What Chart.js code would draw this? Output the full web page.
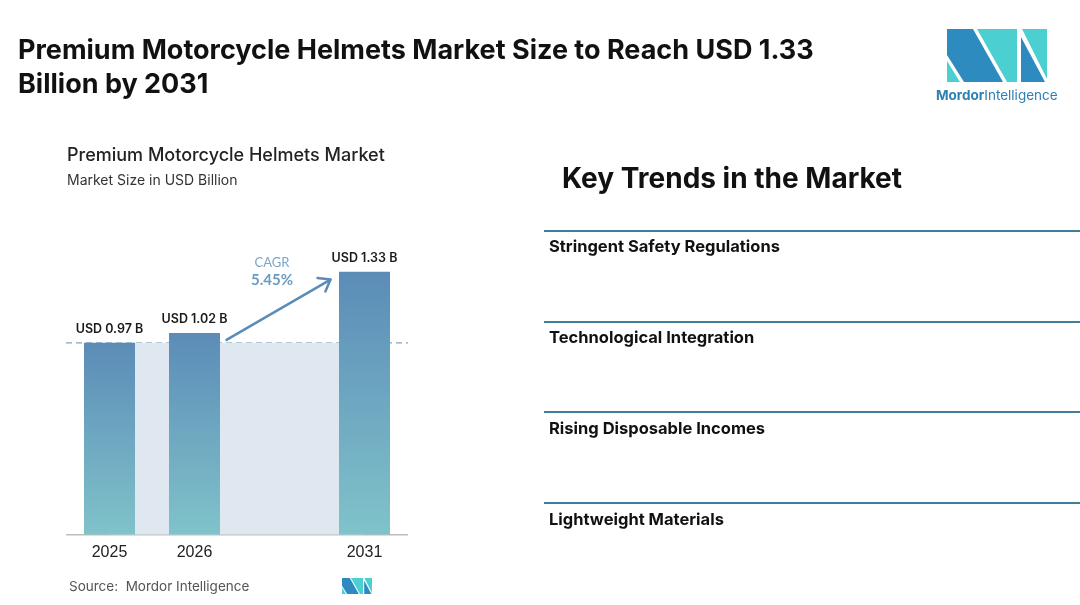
<!DOCTYPE html>
<html>
<head>
<meta charset="utf-8">
<script src="https://cdn.jsdelivr.net/npm/chart.js@4.4.1/dist/chart.umd.min.js"></script>
<style>
  html, body { margin: 0; padding: 0; background: #fff; }
  body { width: 1080px; height: 605px; position: relative; overflow: hidden; font-family: Inter, "Open Sans", sans-serif; }
  #chart { position: absolute; left: 0; top: 0; }
  .t { position: absolute; white-space: nowrap; color: #111; }
  .title { left: 18px; top: 33px; font-size: 27px; font-weight: 700; line-height: 34px; }
  .sub1 { left: 67px; top: 144px; font-size: 18px; font-weight: 500; color: #222; }
  .sub2 { left: 67px; top: 171px; font-size: 14px; color: #333; }
  .kt { left: 562px; top: 161px; font-size: 28px; font-weight: 700; }
  .rule { position: absolute; left: 544px; width: 536px; height: 2px; background: #3f7d9c; }
  .item { left: 549px; font-size: 16.5px; font-weight: 700; color: #111; }
  .src { left: 69px; top: 578px; font-size: 13.5px; color: #555; }
  .brand { left: 936px; top: 87px; font-size: 13.5px; color: #2e7fb3; }
  .brand b { font-weight: 700; }
</style>
</head>
<body>
<canvas id="chart" width="1080" height="605"></canvas>

<div class="t title">Premium Motorcycle Helmets Market Size to Reach USD 1.33<br>Billion by 2031</div>
<div class="t sub1">Premium Motorcycle Helmets Market</div>
<div class="t sub2">Market Size in USD Billion</div>

<div class="t kt">Key Trends in the Market</div>
<div class="rule" style="top:230px"></div>
<div class="t item" style="top:236px">Stringent Safety Regulations</div>
<div class="rule" style="top:321px"></div>
<div class="t item" style="top:327px">Technological Integration</div>
<div class="rule" style="top:411px"></div>
<div class="t item" style="top:418px">Rising Disposable Incomes</div>
<div class="rule" style="top:502px"></div>
<div class="t item" style="top:509px">Lightweight Materials</div>

<div class="t src">Source:&nbsp; Mordor Intelligence</div>

<svg style="position:absolute;left:0;top:0" width="1080" height="605">
  <g>
    <polygon points="947,29 973,29 1003,82 964,82 947,55" fill="#2e8bc0"/>
    <polygon points="947,61 947,82 960,82" fill="#4ccfd0"/>
    <polygon points="977,29 1017,29 1017,82 1007,82" fill="#4ccfd0"/>
    <polygon points="1022,29 1047,29 1047,79" fill="#4ccfd0"/>
    <polygon points="1021,37 1021,82 1045,82" fill="#2e8bc0"/>
  </g>
  <g transform="translate(342,578) scale(0.3)">
    <polygon points="0,0 26,0 56,53 17,53 0,26" fill="#2e8bc0"/>
    <polygon points="0,32 0,53 13,53" fill="#4ccfd0"/>
    <polygon points="30,0 70,0 70,53 60,53" fill="#4ccfd0"/>
    <polygon points="75,0 100,0 100,50" fill="#4ccfd0"/>
    <polygon points="74,8 74,53 98,53" fill="#2e8bc0"/>
  </g>
</svg>
<div class="t brand"><b>Mordor</b>Intelligence</div>

<script>
// data
var years = ['2025', '2026', '', '2031'];
var marketSize = [0.97, 1.02, null, 1.33];
var valueLabels = ['USD 0.97 B', 'USD 1.02 B', '', 'USD 1.33 B'];
var baseLevel = [0.97, 0.97, 0.97, 0.97];
var cagrText = ['CAGR', '5.45%'];

var barGradient = function (ctx) {
  var chart = ctx.chart;
  var area = chart.chartArea;
  if (!area || ctx.raw == null) return '#6a9fc0';
  var y = chart.scales.y;
  var top = y.getPixelForValue(ctx.raw);
  var g = chart.ctx.createLinearGradient(0, top, 0, y.getPixelForValue(0));
  g.addColorStop(0, '#5b8cb7');
  g.addColorStop(1, '#80c3ca');
  return g;
};

var extras = {
  id: 'extras',
  beforeDatasetsDraw: function (chart) {
    var c = chart.ctx, a = chart.chartArea, y = chart.scales.y;
    var yy = y.getPixelForValue(baseLevel[0]);
    c.save();
    c.strokeStyle = '#7ea8b8';
    c.lineWidth = 1.2;
    c.setLineDash([6, 4]);
    c.beginPath();
    c.moveTo(a.left - 1, yy);
    c.lineTo(a.right + 1, yy);
    c.stroke();
    c.restore();
  },
  afterDatasetsDraw: function (chart) {
    var c = chart.ctx, x = chart.scales.x, y = chart.scales.y;
    var meta = chart.getDatasetMeta(1);
    c.save();
    c.fillStyle = '#1a1a1a';
    c.font = '600 12.5px Inter, "Open Sans", sans-serif';
    c.textAlign = 'center';
    c.textBaseline = 'bottom';
    meta.data.forEach(function (bar, i) {
      if (marketSize[i] == null) return;
      c.fillText(valueLabels[i], bar.x, bar.y - 7);
    });

    // CAGR arrow
    var x0 = x.getPixelForValue(1) + 32, y0 = y.getPixelForValue(0.985);
    var x1 = x.getPixelForValue(3) - 34, y1 = y.getPixelForValue(1.29);
    c.strokeStyle = '#5b8cb7';
    c.lineWidth = 2.5;
    c.lineCap = 'round';
    c.lineJoin = 'round';
    c.beginPath();
    c.moveTo(x0, y0);
    c.lineTo(x1, y1);
    c.stroke();
    var ang = Math.atan2(y1 - y0, x1 - x0), h = 13;
    c.beginPath();
    c.moveTo(x1 + h * Math.cos(ang + 2.5), y1 + h * Math.sin(ang + 2.5));
    c.lineTo(x1, y1);
    c.lineTo(x1 + h * Math.cos(ang - 2.5), y1 + h * Math.sin(ang - 2.5));
    c.stroke();

    c.textBaseline = 'middle';
    c.fillStyle = '#7ba6c9';
    c.font = '400 13px Lato, "Open Sans", sans-serif';
    c.fillText(cagrText[0], 272, 263);
    c.fillStyle = '#6a9bc4';
    c.font = '700 15px Lato, "Open Sans", sans-serif';
    c.fillText(cagrText[1], 272, 280);
    c.restore();
  }
};

new Chart(document.getElementById('chart'), {
  data: {
    labels: years,
    datasets: [
      {
        type: 'line',
        data: baseLevel,
        fill: 'origin',
        backgroundColor: '#dfe8f1',
        borderWidth: 0,
        pointRadius: 0,
        tension: 0,
        order: 2
      },
      {
        type: 'bar',
        data: marketSize,
        backgroundColor: barGradient,
        barPercentage: 0.6,
        categoryPercentage: 1,
        order: 1
      }
    ]
  },
  options: {
    responsive: false,
    animation: false,
    layout: { padding: { left: 67, right: 673, top: 238, bottom: 43 } },
    plugins: { legend: { display: false }, tooltip: { enabled: false } },
    scales: {
      x: {
        grid: { display: false },
        border: { display: true, color: '#bdbdbd', width: 1.5 },
        ticks: { color: '#222', font: { family: 'Liberation Sans', size: 16 }, padding: 0 }
      },
      y: {
        display: false,
        min: 0,
        max: 1.5
      }
    }
  },
  plugins: [extras]
});
</script>
</body>
</html>
